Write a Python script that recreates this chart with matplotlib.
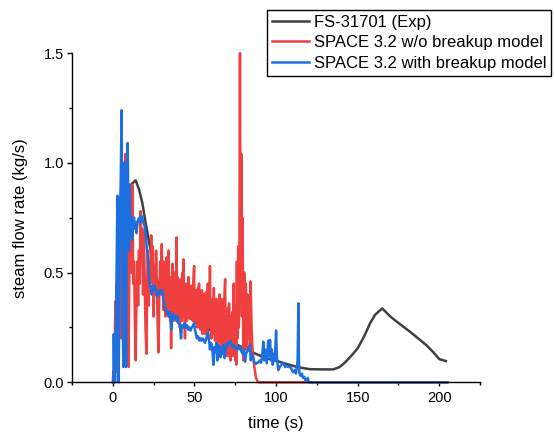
import matplotlib
matplotlib.use("Agg")
import matplotlib.pyplot as plt
from matplotlib.ticker import MultipleLocator, FormatStrFormatter

plt.rcParams['font.family'] = ['Liberation Sans', 'DejaVu Sans']

# ---- data ----
exp_t = [2, 5, 8, 11, 14, 16, 18, 20, 22, 25, 29, 33, 37, 43, 49, 55, 61, 68, 74, 80, 86, 94,
         102, 108, 113, 118, 121, 128, 135, 139, 142, 146, 150, 154, 157.6, 160.6, 165, 170,
         174, 182, 192, 196, 200, 204]
exp_v = [0.05, 0.45, 0.8, 0.90, 0.92, 0.88, 0.82, 0.73, 0.65, 0.52, 0.42, 0.38, 0.345, 0.31,
         0.284, 0.26, 0.232, 0.205, 0.178, 0.158, 0.135, 0.11, 0.094, 0.08, 0.07, 0.063, 0.06,
         0.059, 0.059, 0.07, 0.089, 0.12, 0.155, 0.21, 0.269, 0.307, 0.337, 0.30, 0.276, 0.231,
         0.170, 0.14, 0.106, 0.097]

# SPACE 3.2 w/o breakup model: (time, flow) pairs
red_pts = [
    (0, 0.0), (0.3, 0.05), (0.8, 0.0), (1.2, 0.2), (1.6, 0.37), (2.0, 0.05), (2.4, 0.45),
    (2.8, 0.1), (3.2, 0.6), (3.6, 0.15), (4.0, 0.75), (4.4, 0.3), (4.8, 0.85), (5.2, 0.2),
    (5.6, 0.95), (6.0, 0.5), (6.5, 1.0), (7.0, 0.6), (7.6, 1.04), (8.0, 0.7), (8.5, 0.9),
    (9.0, 0.3), (9.7, 0.07), (10.2, 0.6), (10.7, 0.85), (11.2, 0.5), (11.6, 0.56), (12.0, 0.9),
    (12.5, 0.45), (13.0, 0.55), (13.5, 0.3), (14.0, 0.1), (14.5, 0.4), (15.0, 0.55),
    (15.5, 0.35), (16.0, 0.6), (16.5, 0.45), (17.0, 0.78), (17.5, 0.6), (18.0, 0.7),
    (18.5, 0.4), (19.0, 0.68), (19.5, 0.5), (20.0, 0.25), (20.6, 0.13), (21.0, 0.45),
    (21.5, 0.6), (22.0, 0.35), (22.5, 0.55), (23.0, 0.45), (23.5, 0.67), (24.0, 0.5),
    (24.5, 0.62), (25.0, 0.3), (25.5, 0.5), (26.0, 0.4), (26.5, 0.6), (27.0, 0.45),
    (27.5, 0.25), (28.0, 0.137), (28.5, 0.4), (29.0, 0.55), (29.5, 0.4),
    (30.0, 0.63), (30.3, 0.42), (30.6, 0.5), (30.9, 0.33), (31.2, 0.55), (31.5, 0.4),
    (31.8, 0.48), (32.1, 0.3), (32.4, 0.52), (32.7, 0.38), (33.0, 0.57), (33.3, 0.35),
    (33.6, 0.45), (33.9, 0.3), (34.2, 0.6), (34.5, 0.32), (34.8, 0.48), (35.1, 0.28),
    (35.4, 0.42), (35.7, 0.155), (36.0, 0.4), (36.3, 0.3), (36.6, 0.54), (36.9, 0.36),
    (37.2, 0.46), (37.5, 0.28), (37.8, 0.5), (38.1, 0.33), (38.4, 0.44), (38.7, 0.3),
    (39.0, 0.66), (39.3, 0.35), (39.6, 0.48), (39.9, 0.27), (40.2, 0.45), (40.5, 0.3),
    (40.8, 0.42), (41.1, 0.25), (41.4, 0.47), (41.7, 0.32), (42.0, 0.44), (42.3, 0.28),
    (42.6, 0.5), (42.9, 0.33), (43.3, 0.56), (43.6, 0.3), (43.9, 0.38), (44.2, 0.2),
    (44.5, 0.42), (44.8, 0.3), (45.1, 0.45), (45.4, 0.28), (45.7, 0.4), (46.0, 0.31),
    (46.3, 0.48), (46.6, 0.3), (46.9, 0.42), (47.2, 0.29), (47.5, 0.4), (47.8, 0.3),
    (48.1, 0.44), (48.4, 0.32), (48.7, 0.38), (49.0, 0.28), (49.3, 0.46), (49.8, 0.53),
    (50.1, 0.3), (50.4, 0.4), (50.7, 0.27), (51.0, 0.42), (51.3, 0.3), (51.6, 0.37),
    (51.9, 0.25), (52.2, 0.43), (52.5, 0.28), (52.8, 0.45), (53.1, 0.3), (53.4, 0.36),
    (53.7, 0.24), (54.0, 0.4), (54.3, 0.26), (54.6, 0.42), (54.9, 0.22), (55.2, 0.38),
    (55.5, 0.27), (55.8, 0.4), (56.1, 0.24), (56.4, 0.35), (56.7, 0.22), (57.0, 0.41),
    (57.3, 0.26), (57.6, 0.36), (57.9, 0.2), (58.2, 0.45), (58.5, 0.3), (58.8, 0.4),
    (59.1, 0.25), (59.5, 0.53), (59.8, 0.28), (60.1, 0.36), (60.4, 0.2), (60.7, 0.34),
    (61.0, 0.22), (61.3, 0.38), (61.6, 0.24), (61.9, 0.43), (62.2, 0.27), (62.6, 0.19),
    (62.9, 0.35), (63.2, 0.22), (63.5, 0.38), (63.8, 0.2), (64.1, 0.33), (64.4, 0.18),
    (64.7, 0.36), (65.0, 0.22), (65.3, 0.4), (65.6, 0.2), (65.9, 0.32), (66.2, 0.15),
    (66.5, 0.35), (66.8, 0.2), (67.1, 0.38), (67.4, 0.18), (67.7, 0.3), (68.0, 0.15),
    (68.4, 0.4), (68.8, 0.47), (69.1, 0.2), (69.4, 0.3), (69.7, 0.12), (70.0, 0.28),
    (70.3, 0.15), (70.6, 0.34), (70.9, 0.12), (71.2, 0.36), (71.5, 0.18), (71.8, 0.28),
    (72.1, 0.1), (72.4, 0.3), (72.9, 0.147), (73.2, 0.32), (73.5, 0.12), (73.8, 0.38),
    (74.1, 0.45), (74.4, 0.15), (74.7, 0.3), (75.0, 0.1), (75.3, 0.35), (75.6, 0.08),
    (76.0, 0.55), (76.4, 0.2), (76.8, 0.62), (77.2, 0.25), (77.5, 0.4),
    (77.9, 1.5), (78.3, 0.4), (78.7, 1.04), (79.1, 0.3), (79.5, 0.75), (80.0, 0.1),
    (80.5, 0.5), (81.0, 0.2), (81.5, 0.45), (82.0, 0.15), (82.5, 0.4), (83.0, 0.2),
    (83.5, 0.35), (84.0, 0.15), (84.4, 0.46), (85.0, 0.25), (85.5, 0.16), (86.5, 0.08),
    (87.7, 0.02), (89.0, 0.0), (205, 0.0),
]
red_t = [p[0] for p in red_pts]
red_v = [p[1] for p in red_pts]

blue_t = [0, 0.4, 0.6, 0.9, 1.5, 2.0, 2.8, 3.2, 3.6, 4.2, 4.8, 5.4, 5.8, 6.2, 6.5, 6.9, 7.3, 7.7,
          8.1, 8.6, 9.1, 9.5, 9.9, 10.3, 10.8, 11.3, 11.8, 12.3, 13.0, 13.5, 14.0, 14.5, 15.0,
          15.5, 16.2, 16.8, 17.3, 18.0, 18.6, 19.5, 20.3, 21.0, 21.6, 22.2, 22.7, 23.2, 23.8,
          24.4, 25.0, 25.6, 26.0, 26.6, 27.2, 28.0, 28.6, 29.2, 30.3, 31.0, 31.6, 32.5, 33.2,
          34.0, 34.6, 35.2, 35.8, 36.4, 37.0, 37.8, 38.5, 39.0, 39.8, 40.5, 41.1, 41.8, 42.3,
          43.3, 44.0, 44.8, 45.5, 46.2, 47.0, 47.6, 48.4, 49.2, 49.8, 50.4, 50.9, 51.6, 52.2,
          53.0, 53.7, 54.3, 55.0, 55.8, 56.5, 57.2, 58.0, 58.4, 59.0, 59.5, 60.0, 60.6, 61.2,
          61.7, 62.2, 62.8, 63.4, 64.0, 64.6, 65.2, 66.0, 66.6, 67.2, 67.8, 68.4, 69.3, 70.0,
          70.6, 71.4, 72.0, 72.8, 73.6, 74.4, 75.2, 76.0, 77.0, 78.0, 78.8, 79.6, 80.4, 81.0,
          81.6, 82.3, 83.0, 84.0, 84.5, 85.2, 86.0, 86.8, 87.7, 88.5, 89.3, 90.0, 90.8, 91.5,
          92.2, 92.7, 93.3, 94.3, 95.2, 95.8, 96.3, 96.9, 97.4, 98.0, 98.6, 99.3, 100.0, 100.5,
          101.0, 101.4, 102.2, 103.2, 104.5, 105.5, 106.5, 107.5, 108.6, 109.5, 110.4, 111.2,
          111.6, 112.2, 113.2, 113.7, 114.0, 114.3, 115.0, 115.8, 116.5, 117.2, 118.0, 118.8,
          119.5, 120.0, 121.0, 205]
blue_v = [0.0, 0.0, 0.22, 0.0, 0.0, 0.3, 0.85, 0.2, 0.0, 0.7, 0.9, 1.24, 0.6, 0.2, 0.07, 0.8,
          1.0, 0.5, 0.07, 0.9, 1.09, 0.8, 0.6, 0.9, 0.68, 0.75, 0.65, 0.72, 0.75, 0.7, 0.73,
          0.68, 0.72, 0.74, 0.75, 0.73, 0.76, 0.75, 0.73, 0.71, 0.66, 0.6, 0.556, 0.48, 0.45,
          0.43, 0.4, 0.44, 0.42, 0.44, 0.43, 0.41, 0.39, 0.4, 0.42, 0.41, 0.42, 0.38, 0.35,
          0.33, 0.31, 0.32, 0.3, 0.32, 0.24, 0.3, 0.31, 0.29, 0.3, 0.28, 0.3, 0.27, 0.26, 0.2,
          0.26, 0.25, 0.27, 0.25, 0.26, 0.24, 0.25, 0.236, 0.25, 0.26, 0.27, 0.24, 0.22, 0.2,
          0.21, 0.19, 0.2, 0.19, 0.2, 0.19, 0.18, 0.2, 0.22, 0.23, 0.19, 0.15, 0.18, 0.175,
          0.12, 0.08, 0.16, 0.14, 0.18, 0.1, 0.17, 0.13, 0.114, 0.16, 0.13, 0.17, 0.11, 0.175,
          0.16, 0.18, 0.18, 0.19, 0.17, 0.16, 0.17, 0.15, 0.16, 0.15, 0.162, 0.14, 0.13, 0.15,
          0.094, 0.13, 0.14, 0.15, 0.17, 0.1, 0.13, 0.11, 0.09, 0.084, 0.09, 0.09, 0.1, 0.09,
          0.12, 0.185, 0.1, 0.15, 0.087, 0.19, 0.12, 0.193, 0.1, 0.15, 0.08, 0.13, 0.1, 0.236,
          0.12, 0.08, 0.056, 0.07, 0.08, 0.087, 0.07, 0.075, 0.07, 0.071, 0.06, 0.046, 0.05,
          0.056, 0.04, 0.1, 0.36, 0.1, 0.041, 0.03, 0.04, 0.02, 0.025, 0.01, 0.01, 0.02, 0.0,
          0.0, 0.0]

labels = ["FS-31701 (Exp)", "SPACE 3.2 w/o breakup model", "SPACE 3.2 with breakup model"]
colors = ["#404040", "#ef3f3f", "#1b6fdf"]

# ---- figure ----
fig = plt.figure(figsize=(5.54, 4.34), dpi=100)
ax = fig.add_axes([0.130, 0.119, 0.7366, 0.7588])

ax.plot(exp_t, exp_v, color=colors[0], lw=1.8, label=labels[0], clip_on=False)
ax.plot(red_t, red_v, color=colors[1], lw=1.8, label=labels[1], clip_on=False)
ax.plot(blue_t, blue_v, color=colors[2], lw=1.8, label=labels[2], clip_on=False)

ax.set_xlim(-25, 225)
ax.set_ylim(0, 1.5)
ax.xaxis.set_major_locator(MultipleLocator(50))
ax.xaxis.set_minor_locator(MultipleLocator(25))
ax.yaxis.set_major_locator(MultipleLocator(0.5))
ax.yaxis.set_minor_locator(MultipleLocator(0.25))
ax.yaxis.set_major_formatter(FormatStrFormatter('%.1f'))

for s in ['top', 'right']:
    ax.spines[s].set_visible(False)
for s in ['left', 'bottom']:
    ax.spines[s].set_linewidth(1.0)
ax.tick_params(axis='x', which='major', direction='out', length=3.2, width=1.0,
               labelsize=10.5, pad=3)
ax.tick_params(axis='y', which='major', direction='out', length=3.6, width=1.0,
               labelsize=10.5, pad=2)
ax.tick_params(which='minor', direction='out', length=2.2, width=1.0)

ax.set_xlabel("time (s)", fontsize=12, labelpad=8)
ax.set_ylabel("steam flow rate (kg/s)", fontsize=12, labelpad=11)

leg = fig.legend(loc='upper left', bbox_to_anchor=(267 / 554, 1 - 10 / 434), fontsize=12,
                 frameon=True, fancybox=False, edgecolor='black', framealpha=1,
                 borderpad=0.3, labelspacing=0.32, handlelength=2.2, handletextpad=0.3,
                 borderaxespad=0.0)
leg.get_frame().set_linewidth(1.0)

fig.savefig("out.png", dpi=100)
